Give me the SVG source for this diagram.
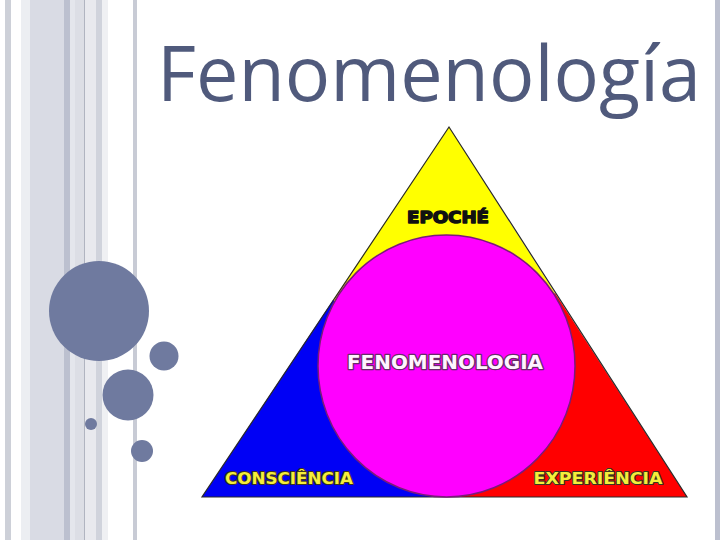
<svg xmlns="http://www.w3.org/2000/svg" width="720" height="540" viewBox="0 0 720 540">
<style>
.dot{fill:#6f7a9f}
.lbl{font-family:"DejaVu Sans","Liberation Sans",sans-serif;font-weight:bold;text-anchor:middle;paint-order:stroke;stroke-linejoin:round}
.yl{fill:#f5ee3a;stroke:#3a3320;stroke-width:2.2;font-size:16.5px}
</style>
<rect width="720" height="540" fill="#ffffff"/>
<g id="stripes">
<rect x="5" y="0" width="6" height="540" fill="#cdd0d8"/>
<rect x="21" y="0" width="9" height="540" fill="#eceef2"/>
<rect x="30" y="0" width="34" height="540" fill="#d9dbe4"/>
<rect x="64" y="0" width="6" height="540" fill="#bcc0cf"/>
<rect x="70" y="0" width="5" height="540" fill="#e4e6ec"/>
<rect x="75" y="0" width="9" height="540" fill="#dcdee5"/>
<rect x="84" y="0" width="1" height="540" fill="#b0b4c0"/>
<rect x="85" y="0" width="11" height="540" fill="#e8e9ee"/>
<rect x="96" y="0" width="6" height="540" fill="#d0d3dc"/>
<rect x="102" y="0" width="6" height="540" fill="#eff0f3"/>
<rect x="133" y="0" width="4" height="540" fill="#c8cbd5"/>
<rect x="715" y="0" width="5" height="540" fill="#bcc0cf"/>
</g>
<g id="dots">
<circle class="dot" cx="99" cy="311" r="50"/>
<circle class="dot" cx="164" cy="356" r="14.5"/>
<circle class="dot" cx="128" cy="395" r="25.5"/>
<circle class="dot" cx="91" cy="424" r="6"/>
<circle class="dot" cx="142" cy="451" r="11"/>
</g>
<text id="title" x="157" y="101" textLength="544" lengthAdjust="spacingAndGlyphs" font-family="'Open Sans','Noto Sans',sans-serif" font-size="76" fill="#505a7c">Fenomenología</text>
<g id="triangle">
<polygon points="449,127 333,300 446,366 555,293" fill="#ffff00"/>
<polygon points="333,300 202,497 446,497 446,366" fill="#0000f5"/>
<polygon points="555,293 687,497 446,497 446,366" fill="#ff0000"/>
<polygon points="449,127 202,497 687,497" fill="none" stroke="#2a2a2a" stroke-width="1.2" stroke-linejoin="miter"/>
</g>
<g id="circle">
<ellipse cx="446.5" cy="366" rx="128.5" ry="131" fill="#ff00ff" stroke="#7a1a7a" stroke-width="1.5"/>
</g>
<g id="labels">
<text class="lbl" x="448" y="223" textLength="82" lengthAdjust="spacingAndGlyphs" font-size="16" fill="#111111" stroke="#111111" stroke-width="1.4">EPOCHÉ</text>
<text class="lbl" x="445" y="369" textLength="196" lengthAdjust="spacingAndGlyphs" font-size="19.5" fill="#fff4ff" stroke="#6a2a6a" stroke-width="2.6">FENOMENOLOGIA</text>
<text class="lbl yl" x="289" y="484" textLength="128" lengthAdjust="spacingAndGlyphs">CONSCIÊNCIA</text>
<text class="lbl yl" x="598" y="484" textLength="129" lengthAdjust="spacingAndGlyphs">EXPERIÊNCIA</text>
</g>
</svg>
